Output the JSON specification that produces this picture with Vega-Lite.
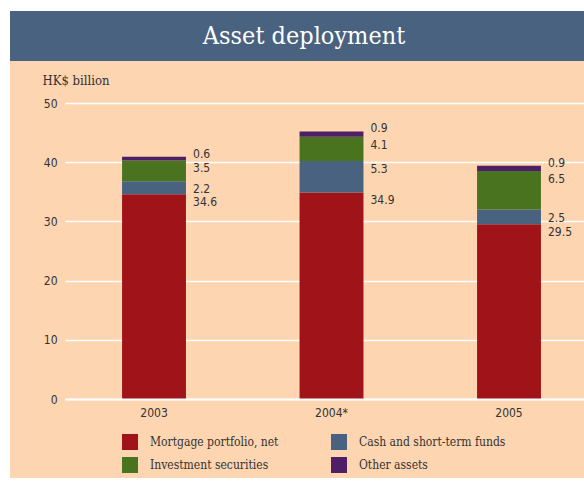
{
  "$schema": "https://vega.github.io/schema/vega-lite/v6.json",
  "background": "white",
  "padding": {"left": 10, "top": 11, "right": 0, "bottom": 3},
  "spacing": 0,
  "config": {"view": {"stroke": null}, "concat": {"spacing": 0}},
  "vconcat": [
    {
      "width": 574,
      "height": 50,
      "view": {"fill": "#48627F", "stroke": null},
      "data": {"values": [{"title": "Asset deployment"}]},
      "mark": {"type": "text", "font": "DejaVu Serif Condensed, DejaVu Serif", "fontSize": 25, "color": "white", "dx": 7},
      "encoding": {"text": {"field": "title"}}
    },
    {
      "width": 574,
      "height": 417,
      "view": {"fill": "#FDD5B1", "stroke": null},
      "data": {
        "values": [
          {"year": "2003", "category": "Mortgage portfolio, net", "value": 34.6},
          {"year": "2003", "category": "Cash and short-term funds", "value": 2.2},
          {"year": "2003", "category": "Investment securities", "value": 3.5},
          {"year": "2003", "category": "Other assets", "value": 0.6},
          {"year": "2004*", "category": "Mortgage portfolio, net", "value": 34.9},
          {"year": "2004*", "category": "Cash and short-term funds", "value": 5.3},
          {"year": "2004*", "category": "Investment securities", "value": 4.1},
          {"year": "2004*", "category": "Other assets", "value": 0.9},
          {"year": "2005", "category": "Mortgage portfolio, net", "value": 29.5},
          {"year": "2005", "category": "Cash and short-term funds", "value": 2.5},
          {"year": "2005", "category": "Investment securities", "value": 6.5},
          {"year": "2005", "category": "Other assets", "value": 0.9}
        ]
      },
      "transform": [{"stack": "value", "groupby": ["year"], "as": ["v0", "v1"]}],
      "encoding": {
        "x": {
          "field": "year",
          "type": "nominal",
          "sort": null,
          "scale": {"range": [55, 574], "paddingInner": 0.64, "paddingOuter": 0.282, "align": 0.57},
          "axis": {
            "title": null,
            "offset": -79,
            "zindex": 1,
            "domain": true,
            "domainColor": "white",
            "domainWidth": 2,
            "ticks": false,
            "grid": false,
            "labelAngle": 0,
            "labelPadding": 8,
            "labelFont": "DejaVu Sans Condensed, DejaVu Sans",
            "labelFontSize": 12,
            "labelColor": "#333333"
          }
        }
      },
      "layer": [
        {
          "mark": {"type": "bar"},
          "encoding": {
            "y": {
              "field": "v1",
              "type": "quantitative",
              "scale": {"domain": [0, 50], "range": [338, 42], "nice": false},
              "axis": {
                "title": "HK$ billion",
                "values": [0, 10, 20, 30, 40, 50],
                "offset": -55,
                "domain": false,
                "ticks": false,
                "grid": true,
                "gridColor": "white",
                "gridWidth": 1.5,
                "gridOpacity": 1,
                "labelFont": "DejaVu Sans Condensed, DejaVu Sans",
                "labelFontSize": 12,
                "labelColor": "#333333",
                "labelPadding": 8,
                "titleAngle": 0,
                "titleAlign": "left",
                "titleBaseline": "middle",
                "titleX": -23,
                "titleY": 19,
                "titleFont": "DejaVu Serif Condensed, DejaVu Serif",
                "titleFontSize": 13,
                "titleFontWeight": "normal",
                "titleColor": "#333333"
              }
            },
            "y2": {"field": "v0"},
            "color": {
              "field": "category",
              "type": "nominal",
              "sort": ["Mortgage portfolio, net", "Cash and short-term funds", "Investment securities", "Other assets"],
              "scale": {
                "domain": ["Mortgage portfolio, net", "Cash and short-term funds", "Investment securities", "Other assets"],
                "range": ["#A01319", "#48627F", "#4A7320", "#4F1F66"]
              },
              "legend": {
                "title": null,
                "orient": "none",
                "direction": "horizontal",
                "legendX": 112,
                "legendY": 423,
                "columns": 2,
                "padding": 0,
                "symbolType": "square",
                "symbolSize": 256,
                "symbolStrokeWidth": 0,
                "symbolOpacity": 1,
                "labelFont": "DejaVu Serif Condensed, DejaVu Serif",
                "labelFontSize": 12,
                "labelColor": "#333333",
                "labelOffset": 12,
                "rowPadding": 7,
                "columnPadding": 52
              }
            }
          }
        },
        {
          "transform": [{"filter": "datum.category !== 'Other assets'"}],
          "mark": {"type": "text", "align": "left", "baseline": "middle", "dx": 39, "dy": 8, "font": "DejaVu Sans Condensed, DejaVu Sans", "fontSize": 12, "color": "#333333"},
          "encoding": {
            "y": {"field": "v1", "type": "quantitative"},
            "text": {"field": "value", "type": "quantitative", "format": ".1f"}
          }
        },
        {
          "transform": [{"filter": "datum.category === 'Other assets'"}],
          "mark": {"type": "text", "align": "left", "baseline": "middle", "dx": 39, "dy": -3, "font": "DejaVu Sans Condensed, DejaVu Sans", "fontSize": 12, "color": "#333333"},
          "encoding": {
            "y": {"field": "v1", "type": "quantitative"},
            "text": {"field": "value", "type": "quantitative", "format": ".1f"}
          }
        }
      ]
    }
  ]
}
